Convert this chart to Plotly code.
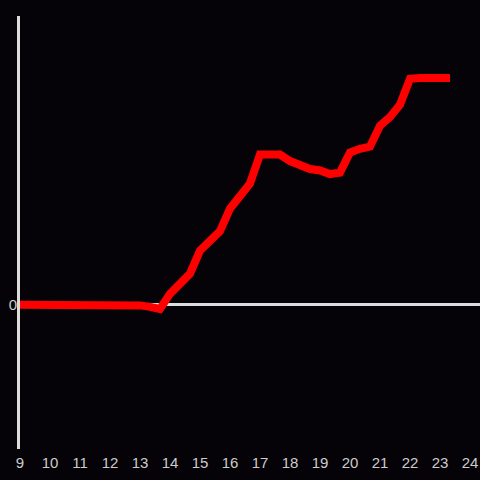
import plotly.graph_objects as go

hours = [9 + i / 3 for i in range(44)]
values = [0, 0, 0, 0, 0, 0, 0, 0, 0, 0, 0, 0,
          -0.01, -0.03, -0.06, 0.15, 0.29, 0.43, 0.75, 0.89, 1.02,
          1.33, 1.50, 1.68, 2.08, 2.08, 2.08, 1.99, 1.93, 1.88, 1.86,
          1.81, 1.83, 2.11, 2.16, 2.19, 2.48, 2.60, 2.77, 3.13, 3.14,
          3.14, 3.14, 3.14]
x_ticks = list(range(9, 25))

bg = "#050307"
axis_col = "#dcdcdc"

fig = go.Figure()
fig.add_trace(go.Scatter(x=hours, y=values, mode="lines",
                         line=dict(color="#ff0000", width=8),
                         hoverinfo="skip"))
fig.update_layout(
    width=480, height=480,
    paper_bgcolor=bg, plot_bgcolor=bg,
    margin=dict(l=20, r=0, t=16, b=31),
    showlegend=False,
    font=dict(family="Liberation Sans, Arial, sans-serif", size=15, color="#cccccc"),
    xaxis=dict(range=[9, 24 + 1/3], tickvals=x_ticks, ticktext=[str(t) for t in x_ticks],
               showgrid=False, zeroline=False, showline=False, ticks="",
               ticklabelstandoff=3),
    yaxis=dict(range=[-2, 4], tickvals=[0], ticktext=["0"], showgrid=False,
               zeroline=True, zerolinecolor=axis_col, zerolinewidth=3,
               showline=True, linecolor=axis_col, linewidth=3, ticks="",
               ticklabelstandoff=-3),
)
fig.write_html("out.html", config={"displayModeBar": False},
               post_script="document.body.style.margin='0';document.body.style.background='%s';" % bg)
